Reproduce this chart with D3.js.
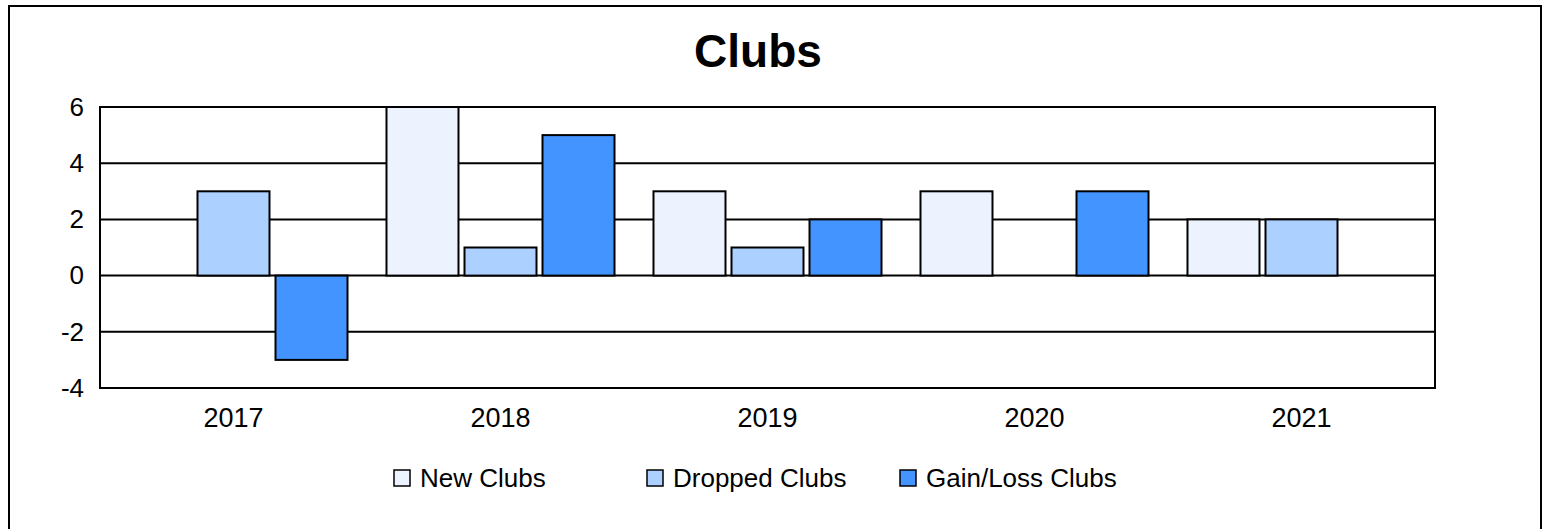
<!DOCTYPE html>
<html>
<head><meta charset="utf-8"></head>
<body style="margin:0">

<script src="https://d3js.org/d3.v7.min.js"></script>
<style>
  text { font-family: "Liberation Sans", Arial, sans-serif; }
</style>

<script>

var years = ["2017", "2018", "2019", "2020", "2021"];
var series = ["New Clubs", "Dropped Clubs", "Gain/Loss Clubs"];
var newClubs = [0, 6, 3, 3, 2];
var droppedClubs = [3, 1, 1, 0, 2];
var gainLoss = [-3, 5, 2, 3, 0];
var yTicks = [-4, -2, 0, 2, 4, 6];
var colors = ["#edf3fe", "#acd0ff", "#4494ff"];

var values = [newClubs, droppedClubs, gainLoss];

var width = 1551, height = 529;
var margin = {top: 107, right: 116, bottom: 141, left: 100};
var plotW = width - margin.left - margin.right,
    plotH = height - margin.top - margin.bottom;

var svg = d3.select("body")
            .append("svg")
            .attr("width", width)
            .attr("height", height);

// outer frame (bottom edge falls off the picture)
svg.append("rect")
   .attr("x", 9).attr("y", 6)
   .attr("width", 1532).attr("height", 600)
   .attr("fill", "white")
   .attr("stroke", "black")
   .attr("stroke-width", 2);

svg.append("text")
   .attr("x", 758).attr("y", 67)
   .attr("text-anchor", "middle")
   .attr("font-size", 46)
   .attr("font-weight", "bold")
   .text("Clubs");

var g = svg.append("g")
           .attr("transform", "translate(" + margin.left + "," + margin.top + ")");

var x0 = d3.scaleBand()
           .domain(years)
           .range([0, plotW])
           .paddingInner(0.146)
           .paddingOuter(0.073);

var x1 = d3.scaleBand()
           .domain(series)
           .range([0, x0.bandwidth()])
           .paddingInner(0.077);

var y = d3.scaleLinear()
          .domain([-4, 6])
          .range([plotH, 0]);

// grid lines
g.selectAll(".grid")
 .data(yTicks).enter()
 .append("line")
 .attr("x1", 0).attr("x2", plotW)
 .attr("y1", function(d){return y(d)})
 .attr("y2", function(d){return y(d)})
 .attr("stroke", "black")
 .attr("stroke-width", 2);

g.append("rect")
 .attr("width", plotW).attr("height", plotH)
 .attr("fill", "none")
 .attr("stroke", "black")
 .attr("stroke-width", 2);

var yAxis = d3.axisLeft(y).tickValues(yTicks).tickSize(0).tickPadding(16)
              .tickFormat(function(d){return String(d)});
var ya = g.append("g").call(yAxis);
ya.select(".domain").remove();
ya.selectAll("text").attr("font-size", 26).attr("fill", "black")
  .attr("font-family", "Liberation Sans, Arial, sans-serif");

var xAxis = d3.axisBottom(x0).tickSize(0).tickPadding(20);
var xa = g.append("g").attr("transform", "translate(0," + plotH + ")").call(xAxis);
xa.select(".domain").remove();
xa.selectAll("text").attr("font-size", 27).attr("fill", "black")
  .attr("font-family", "Liberation Sans, Arial, sans-serif");

// bars
series.forEach(function(s, i) {
  var rows = years.map(function(yr, j){return {year: yr, v: values[i][j]}})
                  .filter(function(d){return d.v != 0});
  g.selectAll(".bar" + i)
   .data(rows).enter()
   .append("rect")
   .attr("x", function(d){return x0(d.year) + x1(s)})
   .attr("width", x1.bandwidth())
   .attr("y", function(d){return y(Math.max(0, d.v))})
   .attr("height", function(d){return Math.abs(y(d.v) - y(0))})
   .attr("fill", colors[i])
   .attr("stroke", "black")
   .attr("stroke-width", 2);
});

// legend
var legX = [394, 647, 900];
var leg = svg.selectAll(".leg")
             .data(series).enter()
             .append("g")
             .attr("transform", function(d, i){return "translate(" + legX[i] + ",470)"});

leg.append("rect")
   .attr("width", 16).attr("height", 16)
   .attr("fill", function(d, i){return colors[i]})
   .attr("stroke", "black")
   .attr("stroke-width", 1.5);

leg.append("text")
   .attr("x", 26).attr("y", 17)
   .attr("font-size", 26)
   .text(function(d){return d});

</script>
</body>
</html>
